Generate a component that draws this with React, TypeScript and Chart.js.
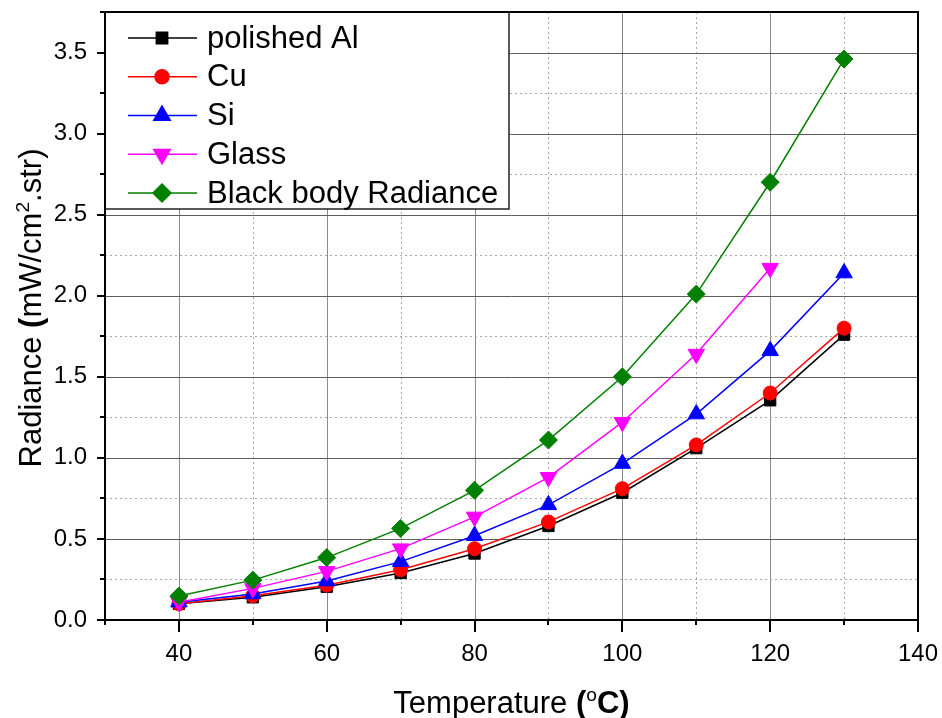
import React, { useEffect, useRef } from 'react';
import { Chart, registerables } from 'chart.js';
import { drawPoint } from 'chart.js/helpers';

Chart.register(...registerables);

const FONT = '"Liberation Sans", Arial, sans-serif';

const temperatures = [40, 50, 60, 70, 80, 90, 100, 110, 120, 130];
const polishedAl = [0.10, 0.14, 0.205, 0.29, 0.41, 0.58, 0.785, 1.06, 1.355, 1.76];
const copper = [0.10, 0.15, 0.215, 0.31, 0.44, 0.605, 0.81, 1.08, 1.40, 1.80];
const silicon = [0.11, 0.16, 0.24, 0.36, 0.52, 0.71, 0.965, 1.27, 1.66, 2.14];
const glass = [0.11, 0.195, 0.30, 0.44, 0.636, 0.88, 1.22, 1.64, 2.17, null];
const blackBody = [0.148, 0.246, 0.385, 0.565, 0.80, 1.11, 1.50, 2.01, 2.70, 3.46];

const seriesNames = ['polished Al', 'Cu', 'Si', 'Glass', 'Black body Radiance'];
const seriesValues = [polishedAl, copper, silicon, glass, blackBody];
const seriesColors = ['#000000', '#ff0000', '#0000ff', '#ff00ff', '#008000'];
const seriesMarkers = ['rect', 'circle', 'triangle', 'triangle', 'rectRot'];
const seriesMarkerSizes = [8, 7, 9.5, 9.5, 9];
const seriesMarkerRotations = [0, 0, 0, 180, 0];

const xMin = 30, xMax = 140, xStep = 10, xMajor = 20;
const yMin = 0, yMax = 3.75, yStep = 0.25, yMajor = 0.5;

type Part = { text: string; bold?: boolean; sup?: boolean };
const xTitle: Part[] = [
  { text: 'Temperature ' },
  { text: '(', bold: true },
  { text: 'o', sup: true },
  { text: 'C)', bold: true },
];
const yTitle: Part[] = [
  { text: 'Radiance ' },
  { text: '(', bold: true },
  { text: 'mW/cm' },
  { text: '2', sup: true },
  { text: '.str)' },
];

function drawRich(ctx: CanvasRenderingContext2D, parts: Part[], cx: number, baseY: number, size: number) {
  const fontOf = (p: Part) => `${p.bold ? 'bold ' : ''}${p.sup ? size * 0.62 : size}px ${FONT}`;
  let total = 0;
  const widths = parts.map((p) => {
    ctx.font = fontOf(p);
    const w = ctx.measureText(p.text).width;
    total += w;
    return w;
  });
  let x = cx - total / 2;
  ctx.textAlign = 'left';
  ctx.textBaseline = 'alphabetic';
  ctx.fillStyle = '#000';
  parts.forEach((p, i) => {
    ctx.font = fontOf(p);
    ctx.fillText(p.text, x, p.sup ? baseY - size * 0.38 : baseY);
    x += widths[i];
  });
}

const isMult = (v: number, m: number) => Math.abs(v / m - Math.round(v / m)) < 1e-6;

const decorPlugin = {
  id: 'decor',
  beforeDatasetsDraw(chart: any) {
    const { ctx, chartArea: a } = chart;
    const xs = chart.scales.x, ys = chart.scales.y;
    ctx.save();
    ctx.lineWidth = 1;
    xs.ticks.forEach((t: any) => {
      const px = Math.round(xs.getPixelForValue(t.value)) + 0.5;
      if (t.value <= xMin || t.value >= xMax) return;
      const major = isMult(t.value, xMajor);
      ctx.strokeStyle = major ? '#8a8a8a' : '#a8a8a8';
      ctx.setLineDash(major ? [] : [2, 3]);
      ctx.beginPath();
      ctx.moveTo(px, a.top);
      ctx.lineTo(px, a.bottom);
      ctx.stroke();
    });
    ys.ticks.forEach((t: any) => {
      const py = Math.round(ys.getPixelForValue(t.value)) + 0.5;
      if (t.value <= yMin || t.value >= yMax) return;
      const major = isMult(t.value, yMajor);
      ctx.strokeStyle = major ? '#5e5e5e' : '#a8a8a8';
      ctx.setLineDash(major ? [] : [2, 3]);
      ctx.beginPath();
      ctx.moveTo(a.left, py);
      ctx.lineTo(a.right, py);
      ctx.stroke();
    });
    ctx.restore();
  },
  afterDraw(chart: any) {
    const { ctx, chartArea: a } = chart;
    const xs = chart.scales.x, ys = chart.scales.y;
    ctx.save();
    ctx.strokeStyle = '#000';
    ctx.lineWidth = 2;
    ctx.setLineDash([]);
    xs.ticks.forEach((t: any) => {
      const px = Math.round(xs.getPixelForValue(t.value));
      const len = isMult(t.value, xMajor) ? 12 : 5;
      ctx.beginPath();
      ctx.moveTo(px, a.bottom);
      ctx.lineTo(px, a.bottom + len);
      ctx.stroke();
    });
    ys.ticks.forEach((t: any) => {
      const py = Math.round(ys.getPixelForValue(t.value));
      const len = isMult(t.value, yMajor) ? 8 : 5;
      ctx.beginPath();
      ctx.moveTo(a.left, py);
      ctx.lineTo(a.left - len, py);
      ctx.stroke();
    });
    ctx.strokeRect(a.left, a.top, a.right - a.left, a.bottom - a.top);

    // legend
    const lx = a.left, ly = a.top, lw = 404, lh = 197;
    ctx.fillStyle = '#fff';
    ctx.fillRect(lx, ly, lw, lh);
    ctx.strokeStyle = '#222';
    ctx.lineWidth = 1.5;
    ctx.strokeRect(lx, ly, lw, lh);
    ctx.lineWidth = 2;
    ctx.strokeStyle = '#000';
    ctx.beginPath();
    ctx.moveTo(lx, ly);
    ctx.lineTo(lx, ly + lh);
    ctx.moveTo(lx, ly);
    ctx.lineTo(lx + lw, ly);
    ctx.stroke();
    seriesNames.forEach((name, i) => {
      const cy = ly + 26 + i * 38.75;
      ctx.strokeStyle = seriesColors[i];
      ctx.fillStyle = seriesColors[i];
      ctx.lineWidth = 1.5;
      ctx.beginPath();
      ctx.moveTo(lx + 23, cy);
      ctx.lineTo(lx + 92, cy);
      ctx.stroke();
      drawPoint(ctx, {
        pointStyle: seriesMarkers[i],
        radius: seriesMarkerSizes[i],
        rotation: seriesMarkerRotations[i],
        borderWidth: 1,
      } as any, lx + 57, cy);
      ctx.fillStyle = '#000';
      ctx.font = `31px ${FONT}`;
      ctx.textAlign = 'left';
      ctx.textBaseline = 'middle';
      ctx.fillText(name, lx + 102, cy + 1);
    });

    drawRich(ctx, xTitle, (a.left + a.right) / 2, 713, 31);
    ctx.save();
    ctx.translate(41, 308);
    ctx.rotate(-Math.PI / 2);
    drawRich(ctx, yTitle, 0, 0, 31);
    ctx.restore();
    ctx.restore();
  },
};

export default function App() {
  const ref = useRef<HTMLCanvasElement | null>(null);
  useEffect(() => {
    if (!ref.current) return;
    const datasets = seriesNames.map((name, i) => ({
      label: name,
      data: temperatures.map((t, j) => ({ x: t, y: seriesValues[i][j] })),
      borderColor: seriesColors[i],
      backgroundColor: seriesColors[i],
      pointBackgroundColor: seriesColors[i],
      pointBorderColor: seriesColors[i],
      borderWidth: 1.5,
      pointStyle: seriesMarkers[i],
      pointRadius: seriesMarkerSizes[i],
      pointRotation: seriesMarkerRotations[i],
      pointBorderWidth: 1,
      order: seriesNames.length - i,
      spanGaps: false,
      tension: 0,
    }));
    const chart = new Chart(ref.current, {
      type: 'line',
      data: { datasets },
      options: {
        animation: false,
        responsive: false,
        layout: { padding: { top: 12, right: 24, left: 0, bottom: 0 } },
        plugins: { legend: { display: false }, tooltip: { enabled: false } },
        scales: {
          x: {
            type: 'linear',
            min: xMin,
            max: xMax,
            grid: { display: false, drawTicks: false },
            border: { display: false },
            ticks: {
              stepSize: xStep,
              autoSkip: false,
              maxRotation: 0,
              padding: 20,
              color: '#000',
              font: { family: FONT, size: 24 },
              callback: (v: any) => (isMult(Number(v), xMajor) ? String(v) : ''),
            },
            afterFit: (s: any) => {
              s.height = 98;
              s.paddingLeft = 0;
              s.paddingRight = 0;
            },
          },
          y: {
            type: 'linear',
            min: yMin,
            max: yMax,
            grid: { display: false, drawTicks: false },
            border: { display: false },
            ticks: {
              stepSize: yStep,
              autoSkip: false,
              padding: 18,
              color: '#000',
              font: { family: FONT, size: 24 },
              callback: (v: any) => (isMult(Number(v), yMajor) ? Number(v).toFixed(1) : ''),
            },
            afterFit: (s: any) => {
              s.width = 105;
              s.paddingTop = 0;
              s.paddingBottom = 0;
            },
          },
        },
      } as any,
      plugins: [decorPlugin],
    });
    return () => chart.destroy();
  }, []);
  return (
    <div style={{ position: 'absolute', left: 0, top: 0, width: 942, height: 718, background: '#fff' }}>
      <canvas ref={ref} width={942} height={718} />
    </div>
  );
}
